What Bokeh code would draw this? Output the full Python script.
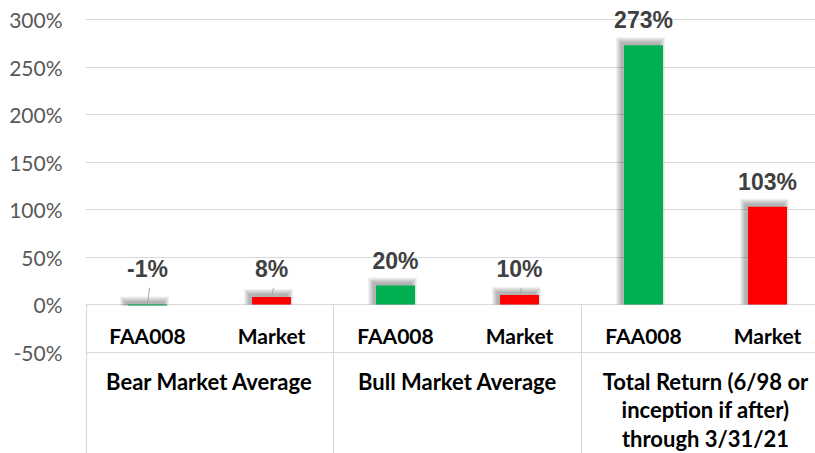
from bokeh.plotting import figure
from bokeh.models import Range1d, FixedTicker
from bokeh.core.properties import value
from bokeh.embed import file_html
from bokeh.resources import INLINE

# ---- data ----
groups = ["Bear Market Average", "Bull Market Average",
          "Total Return (6/98 or\ninception if after)\nthrough 3/31/21"]
series = ["FAA008", "Market"]
faa008 = [-1, 20, 273]
market = [8, 10, 103]
series_colors = ["#00b050", "#ff0000"]
tick_values = [-50, 0, 50, 100, 150, 200, 250, 300]
tick_labels = ["-50%", "0%", "50%", "100%", "150%", "200%", "250%", "300%"]

# ---- geometry ----
W, H = 815, 453
LEFT = 85
PX_X = 248.0            # pixels per group
PX_Y = 0.95             # pixels per percent
ZERO_Y = 304            # pixel row of 0%
x_end = (W - LEFT) / PX_X
y_top = ZERO_Y / PX_Y
y_bot = -(H - ZERO_Y) / PX_Y

p = figure(width=W, height=H, output_backend="svg", toolbar_location=None,
           x_range=Range1d(0, x_end), y_range=Range1d(y_bot, y_top),
           x_axis_location=None, min_border_left=LEFT, min_border_right=0,
           min_border_top=0, min_border_bottom=0)
p.outline_line_color = None
p.background_fill_color = "white"
p.border_fill_color = "white"

ax = p.yaxis[0]
ax.ticker = FixedTicker(ticks=tick_values)
ax.major_label_overrides = {v: l for v, l in zip(tick_values, tick_labels)}
ax.axis_line_color = None
ax.major_tick_line_color = None
ax.minor_tick_line_color = None
ax.major_tick_out = 0
ax.major_tick_in = 0
ax.major_label_standoff = 23
ax.major_label_text_font = "Lato"
ax.major_label_text_font_size = "21px"
ax.major_label_text_color = "#595959"

p.xgrid.visible = False
p.ygrid.ticker = FixedTicker(ticks=tick_values)
p.ygrid.grid_line_color = "#d9d9d9"
p.ygrid.grid_line_width = 1.2

dx = 1.0 / PX_X
dy = 1.0 / PX_Y

# group separators
sep_x = [float(i) for i in range(len(groups))]
sep_x[0] = dx
p.segment(x0=sep_x, y0=[0] * len(sep_x), x1=sep_x, y1=[y_bot] * len(sep_x),
          line_color="#d9d9d9", line_width=1.2)

# bars
offsets = [0.25, 0.75]
bar_w = 39 * dx
xs, vals, cols, subs = [], [], [], []
for gi in range(len(groups)):
    for si, vals_s in enumerate([faa008, market]):
        xs.append(gi + offsets[si])
        vals.append(vals_s[gi])
        cols.append(series_colors[si])
        subs.append(series[si])

# soft shadows (up-left)
for k in range(6):
    p.quad(left=[x - bar_w / 2 - (3 + k) * dx for x in xs],
           right=[x + bar_w / 2 - (3 - k) * dx for x in xs],
           top=[max(v, 0) + (3 + k) * dy for v in vals],
           bottom=[min(v, 0) for v in vals],
           fill_color="black", fill_alpha=0.055, line_color=None)

p.vbar(x=xs, top=vals, bottom=0, width=bar_w, fill_color=cols, line_color=None)

# data labels (small bars get lifted labels with leader lines)
FIX = 8  # px correction of text baseline
lab_y, lead_x0, lead_y0, lead_x1, lead_y1 = [], [], [], [], []
for x, v in zip(xs, vals):
    if v < 12:
        base = 29.0
        lead_x0.append(x + 2 * dx)
        lead_y0.append(base - 11 * dy)
        lead_x1.append(x)
        lead_y1.append(max(v, 0))
    else:
        base = v + 17 * dy
    lab_y.append(base + FIX * dy)
p.segment(x0=lead_x0, y0=lead_y0, x1=lead_x1, y1=lead_y1,
          line_color="#a6a6a6", line_width=1)
p.text(x=xs, y=lab_y, text=[f"{v}%" for v in vals],
       text_font=value("Liberation Sans"), text_font_style="bold",
       text_font_size="23px", text_color="#404040",
       text_align="center", text_baseline="alphabetic")

# category labels
p.text(x=xs, y=[-33] * len(xs), text=subs, text_font=value("Lato"),
       text_font_style="bold", text_font_size="21px", text_color="black",
       text_align="center", text_baseline="middle")
p.text(x=[gi + 0.5 for gi in range(len(groups))], y=[-66.4] * len(groups),
       text=groups, text_font=value("Lato"), text_font_style="bold",
       text_font_size="22px", text_color="black", text_align="center",
       text_baseline="top", text_line_height=1.06)

open("out.html", "w").write(file_html(p, INLINE))
